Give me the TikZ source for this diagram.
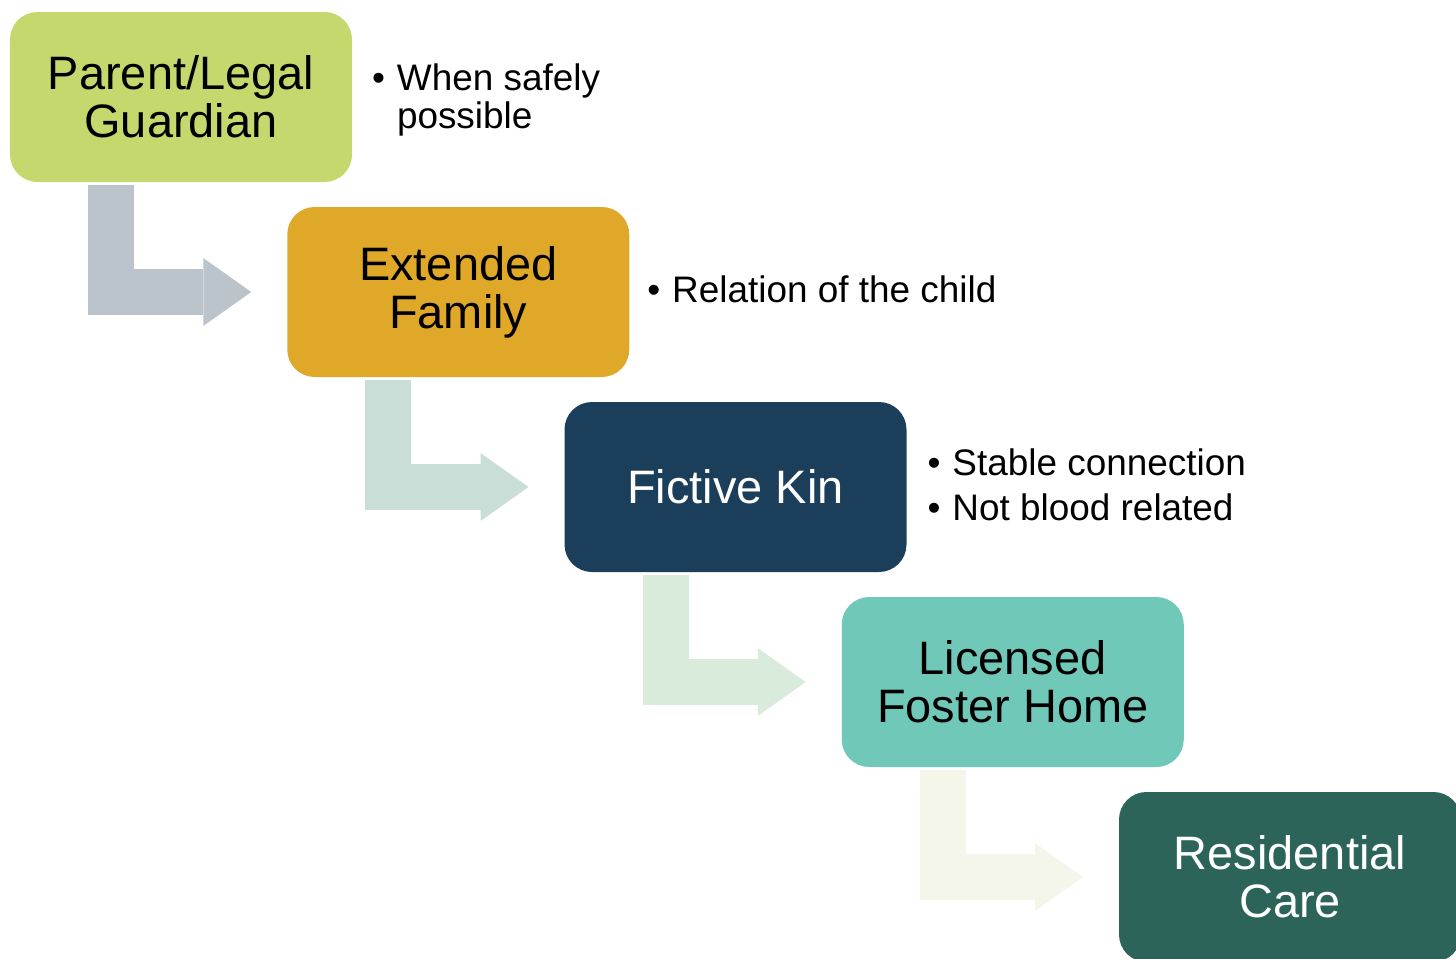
\documentclass[tikz,border=0pt]{standalone}
\usepackage{fontspec}
\setmainfont{Liberation Sans}
\usetikzlibrary{positioning, arrows.meta, calc}

\definecolor{guardgreen}{HTML}{C5D86D}
\definecolor{famgold}{HTML}{E0A828}
\definecolor{kinnavy}{HTML}{1B3F5A}
\definecolor{fosterteal}{HTML}{70C8B8}
\definecolor{resgreen}{HTML}{2C6459}
\definecolor{flowgray}{HTML}{BBC3CB}
\definecolor{flowmint}{HTML}{C8DED7}
\definecolor{flowpale}{HTML}{D9EBDA}
\definecolor{flowcream}{HTML}{F3F6E9}

\newcommand{\notebullet}{\makebox[0.5cm][l]{\textbullet}}

\begin{document}
\begin{tikzpicture}[
    stage/.style={rounded corners=0.55cm, minimum width=6.84cm, minimum height=3.4cm,
      align=center, outer sep=0pt, font=\fontsize{26.7}{27.3}\selectfont},
    note/.style={inner sep=0pt, outer sep=0pt, align=left, font=\fontsize{21}{25.5}\selectfont},
    flow/.style={line width=0.92cm, -{Triangle[length=0.96cm, width=1.36cm, line width=0pt]}}
  ]
  \useasboundingbox (0,0) rectangle (29.12,-19.16);

  % placement steps
  \node[stage, fill=guardgreen] (pg) at (3.62,-1.94) {Parent/Legal\\Guardian};
  \node[stage, fill=famgold, below=0.5cm of pg, xshift=5.545cm] (ef) {Extended\\Family};
  \node[stage, fill=kinnavy, text=white, below=0.5cm of ef, xshift=5.545cm] (fk) {Fictive Kin};
  \node[stage, fill=fosterteal, below=0.5cm of fk, xshift=5.545cm] (lf) {Licensed\\Foster Home};
  \node[stage, fill=resgreen, text=white, below=0.5cm of lf, xshift=5.545cm] (rc) {Residential\\Care};

  % bent arrows
  \draw[flow, draw=flowgray]  ($(pg.south west)+(2.02,-0.06)$) |- ($(ef.west)+(-0.72,0)$);
  \draw[flow, draw=flowmint]  ($(ef.south west)+(2.02,-0.06)$) |- ($(fk.west)+(-0.72,0)$);
  \draw[flow, draw=flowpale]  ($(fk.south west)+(2.02,-0.06)$) |- ($(lf.west)+(-0.72,0)$);
  \draw[flow, draw=flowcream] ($(lf.south west)+(2.02,-0.06)$) |- ($(rc.west)+(-0.72,0)$);

  % notes
  \node[note, right=0.4cm of pg, yshift=-0.05cm, font=\fontsize{21}{21.6}\selectfont] (pgnote)
    {\notebullet When safely\\\hspace*{0.5cm}possible};
  \node[note, right=0.36cm of ef, yshift=0.05cm] (efnote) {\notebullet Relation of the child};
  \node[note, right=0.42cm of fk, yshift=0.04cm] (fknote)
    {\notebullet Stable connection\\\notebullet Not blood related};
\end{tikzpicture}
\end{document}
